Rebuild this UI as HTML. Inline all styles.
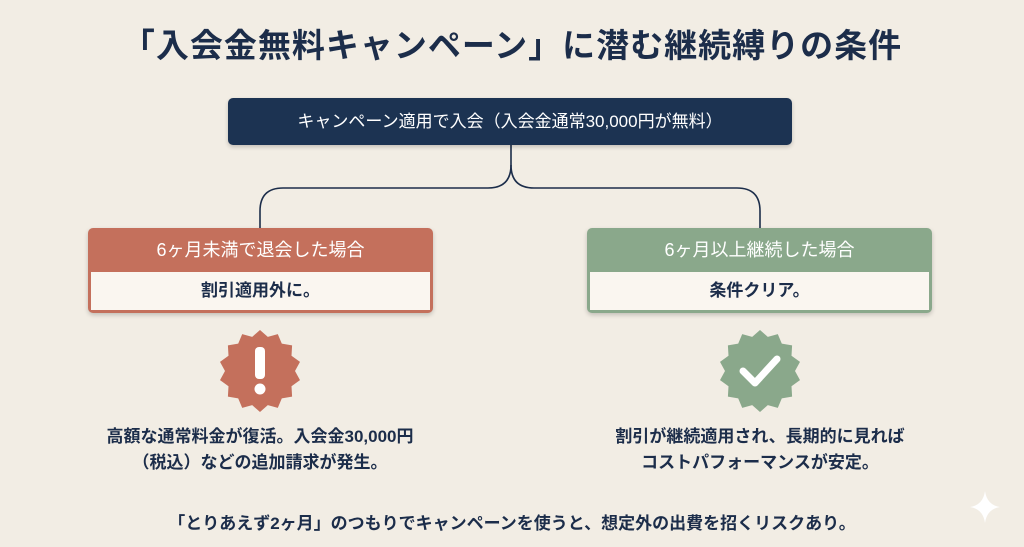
<!DOCTYPE html>
<html><head><meta charset="utf-8">
<style>
html,body{margin:0;padding:0}
body{width:1024px;height:547px;background:#f2ede4;position:relative;overflow:hidden;font-family:"Liberation Sans","Noto Sans CJK JP",sans-serif;color:#1c2d4a}
.abs{position:absolute}
.title{left:0;width:1024px;top:19px;text-align:center;font-size:33px;font-weight:bold;letter-spacing:1px}
.top{left:228px;top:98px;width:564px;height:47px;background:#1c3352;border-radius:5px;color:#fff;font-size:17px;line-height:47px;text-align:center;box-shadow:0 2px 4px rgba(0,0,0,.2)}
.card{width:345px;height:85px;border-radius:5px;overflow:hidden;box-shadow:0 2px 5px rgba(0,0,0,.2)}
.card .h{height:44px;line-height:44px;color:#fff;font-size:18px;text-align:center}
.card .b{position:absolute;left:3px;right:3px;top:44px;bottom:3px;background:#faf6f0;font-size:17px;text-align:center;line-height:38px;font-weight:bold}
.txt{width:400px;text-align:center;font-size:17px;line-height:26px;font-weight:bold}
.foot{left:0;width:1024px;top:509px;text-align:center;font-size:17px;font-weight:bold}
</style></head><body>
<div class="abs title">「入会金無料キャンペーン」に潜む継続縛りの条件</div>
<svg class="abs" style="left:0;top:0" width="1024" height="547">
<path d="M511 145 V165 Q511 188 488 188 H283 Q260 188 260 211 V228" fill="none" stroke="#1c2d4a" stroke-width="1.6"/>
<path d="M511 165 Q511 188 534 188 H737 Q760 188 760 211 V228" fill="none" stroke="#1c2d4a" stroke-width="1.6"/>
<polygon id="s1" fill="#c4705c"/>
<polygon id="s2" fill="#8aa88b"/>
<rect x="255" y="347" width="10" height="32" rx="4" fill="#fff"/>
<circle cx="260" cy="389" r="5.5" fill="#fff"/>
<path d="M743 371 L755 383 L777 359" fill="none" stroke="#fff" stroke-width="7" stroke-linecap="round" stroke-linejoin="round"/>
<path d="M985 491 Q987 505 1000 507 Q987 509 985 523 Q983 509 970 507 Q983 505 985 491Z" fill="#fff"/>
</svg>
<script>
function star(id,cx,cy){var p=[],n=14;for(var i=0;i<n*2;i++){var a=i*Math.PI/n-Math.PI/2,r=i%2?35:41;p.push((cx+r*Math.cos(a)).toFixed(1)+','+(cy+r*Math.sin(a)).toFixed(1));}document.getElementById(id).setAttribute('points',p.join(' '));}
star('s1',260,371);star('s2',760,371);
</script>
<div class="abs top">キャンペーン適用で入会（入会金通常30,000円が無料）</div>
<div class="abs card" style="left:88px;top:228px;background:#c4705c"><div class="h">6ヶ月未満で退会した場合</div><div class="b">割引適用外に。</div></div>
<div class="abs card" style="left:587px;top:228px;background:#8aa88b"><div class="h">6ヶ月以上継続した場合</div><div class="b">条件クリア。</div></div>
<div class="abs txt" style="left:60px;top:424px">高額な通常料金が復活。入会金30,000円<br>（税込）などの追加請求が発生。</div>
<div class="abs txt" style="left:560px;top:424px">割引が継続適用され、長期的に見れば<br>コストパフォーマンスが安定。</div>
<div class="abs foot">「とりあえず2ヶ月」のつもりでキャンペーンを使うと、想定外の出費を招くリスクあり。</div>
</body></html>
